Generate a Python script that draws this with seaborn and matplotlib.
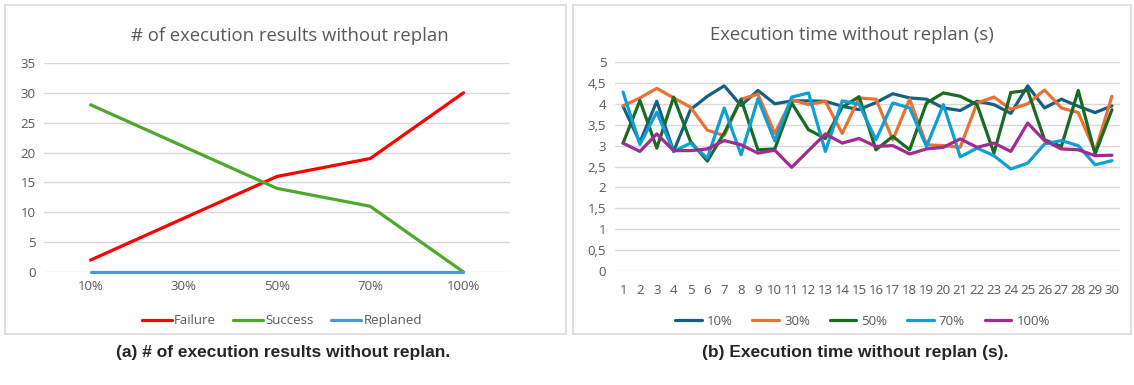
import matplotlib
matplotlib.use("Agg")
import matplotlib.pyplot as plt
from matplotlib.patches import Rectangle
import seaborn as sns
import pandas as pd

# ---- data: left chart (counts per replan ratio) ----
ratios = ["10%", "30%", "50%", "70%", "100%"]
failure = [2, 9, 16, 19, 30]
success = [28, 21, 14, 11, 0]
replaned = [0, 0, 0, 0, 0]

# ---- data: right chart (execution time per run, seconds) ----
runs = list(range(1, 31))
t10 = [3.94, 3.08, 4.06, 2.86, 3.86, 4.18, 4.43, 3.96, 4.32, 4.00,
       4.07, 4.07, 4.06, 3.94, 3.86, 4.03, 4.24, 4.14, 4.11, 3.90,
       3.84, 4.06, 3.98, 3.77, 4.43, 3.90, 4.11, 3.94, 3.79, 3.95]
t30 = [3.95, 4.14, 4.37, 4.14, 3.92, 3.37, 3.24, 4.11, 4.23, 3.29,
       4.10, 3.98, 4.06, 3.29, 4.14, 4.11, 3.14, 4.11, 3.02, 3.00,
       2.96, 4.02, 4.16, 3.87, 4.00, 4.33, 3.90, 3.79, 2.86, 4.18]
t50 = [3.06, 4.08, 2.94, 4.16, 3.10, 2.63, 3.30, 4.11, 2.90, 2.92,
       4.02, 3.38, 3.17, 3.92, 4.17, 2.90, 3.22, 2.90, 4.02, 4.26,
       4.18, 3.98, 2.82, 4.27, 4.32, 3.14, 2.98, 4.32, 2.80, 3.86]
t70 = [4.28, 3.03, 3.80, 2.86, 3.06, 2.70, 3.90, 2.78, 4.12, 3.11,
       4.16, 4.26, 2.86, 4.07, 3.99, 3.14, 4.02, 3.90, 2.98, 3.98,
       2.73, 2.94, 2.76, 2.44, 2.58, 3.04, 3.12, 3.00, 2.54, 2.64]
t100 = [3.06, 2.86, 3.28, 2.88, 2.88, 2.92, 3.12, 3.02, 2.82, 2.89,
        2.48, 2.88, 3.28, 3.06, 3.17, 2.98, 3.00, 2.80, 2.92, 2.96,
        3.16, 2.96, 3.06, 2.86, 3.54, 3.12, 2.92, 2.90, 2.76, 2.77]

left_df = pd.DataFrame({
    "ratio": ratios * 3,
    "count": failure + success + replaned,
    "series": ["Failure"] * 5 + ["Success"] * 5 + ["Replaned"] * 5,
})
left_df["pos"] = left_df["ratio"].map({r: i for i, r in enumerate(ratios)})

time_series = {"10%": t10, "30%": t30, "50%": t50, "70%": t70, "100%": t100}
right_df = pd.DataFrame([
    {"run": r, "time": v, "series": name}
    for name, vals in time_series.items()
    for r, v in zip(runs, vals)
])

sns.set_theme(style="white")
plt.rcParams["font.family"] = ["Open Sans", "DejaVu Sans"]

grey_txt = "#595959"
grid_col = "#D9D9D9"

fig = plt.figure(figsize=(11.34, 3.85), dpi=100)

# panel frames
fig.patches.append(Rectangle((5 / 1134, 1 - 334 / 385), 561 / 1134, 329 / 385,
                             transform=fig.transFigure, fill=False,
                             edgecolor=grid_col, linewidth=1.2))
fig.patches.append(Rectangle((573 / 1134, 1 - 334 / 385), 558 / 1134, 329 / 385,
                             transform=fig.transFigure, fill=False,
                             edgecolor=grid_col, linewidth=1.2))

# ---- left chart ----
ax1 = fig.add_axes([0.0388, 0.2935, 0.411, 0.543])
pal1 = {"Failure": "#FF0000", "Success": "#4EA72E", "Replaned": "#4E95D9"}
sns.lineplot(data=left_df, x="pos", y="count", hue="series", palette=pal1,
             linewidth=2.3, ax=ax1, sort=False)
ax1.set_xlim(-0.5, 4.5)
ax1.set_ylim(0, 35)
ax1.set_yticks(range(0, 36, 5))
ax1.set_xticks(range(5))
ax1.set_xticklabels(ratios)
ax1.set_title("# of execution results without replan", color=grey_txt,
              fontsize=13.3, pad=16, x=0.528)
ax1.legend(loc="center", bbox_to_anchor=(0.51, -0.234), ncol=3,
           frameon=False, fontsize=9.5, handlelength=2.3, handletextpad=0.15,
           columnspacing=1.3, labelcolor=grey_txt)

# ---- right chart ----
ax2 = fig.add_axes([0.542, 0.296, 0.446, 0.543])
pal2 = {"10%": "#156082", "30%": "#E97132", "50%": "#196B24",
        "70%": "#0F9ED5", "100%": "#A02B93"}
sns.lineplot(data=right_df, x="run", y="time", hue="series", palette=pal2,
             linewidth=2.3, ax=ax2)
ax2.set_xlim(0.5, 30.5)
ax2.set_ylim(0, 5)
ax2.set_xticks(runs)
ax2.set_yticks([i * 0.5 for i in range(11)])
ax2.set_yticklabels([f"{i * 0.5:g}".replace(".", ",") for i in range(11)])
ax2.set_title("Execution time without replan (s)", color=grey_txt,
              fontsize=13.3, pad=16, x=0.469)
ax2.legend(loc="center", bbox_to_anchor=(0.49, -0.24), ncol=5,
           frameon=False, fontsize=9.5, handlelength=2.0, handletextpad=0.4,
           columnspacing=1.5, labelcolor=grey_txt)

for ax in (ax1, ax2):
    ax.set_xlabel("")
    ax.set_ylabel("")
    ax.grid(axis="y", color=grid_col, linewidth=1)
    ax.set_axisbelow(True)
    for s in ax.spines.values():
        s.set_visible(False)
    ax.tick_params(axis="both", length=0, labelsize=9.5, colors=grey_txt, pad=6)
    for ln in ax.get_lines():
        ln.set_clip_on(False)

ax2.tick_params(axis="x", pad=9)

# captions
fig.text(283 / 1134, 1 - 353 / 385, "(a) # of execution results without replan.",
         ha="center", va="center", fontsize=12.5, fontweight="bold",
         family=["Liberation Sans", "DejaVu Sans"])
fig.text(855 / 1134, 1 - 353 / 385, "(b) Execution time without replan (s).",
         ha="center", va="center", fontsize=12.5, fontweight="bold",
         family=["Liberation Sans", "DejaVu Sans"])

fig.savefig("out.png", dpi=100, facecolor="white")
